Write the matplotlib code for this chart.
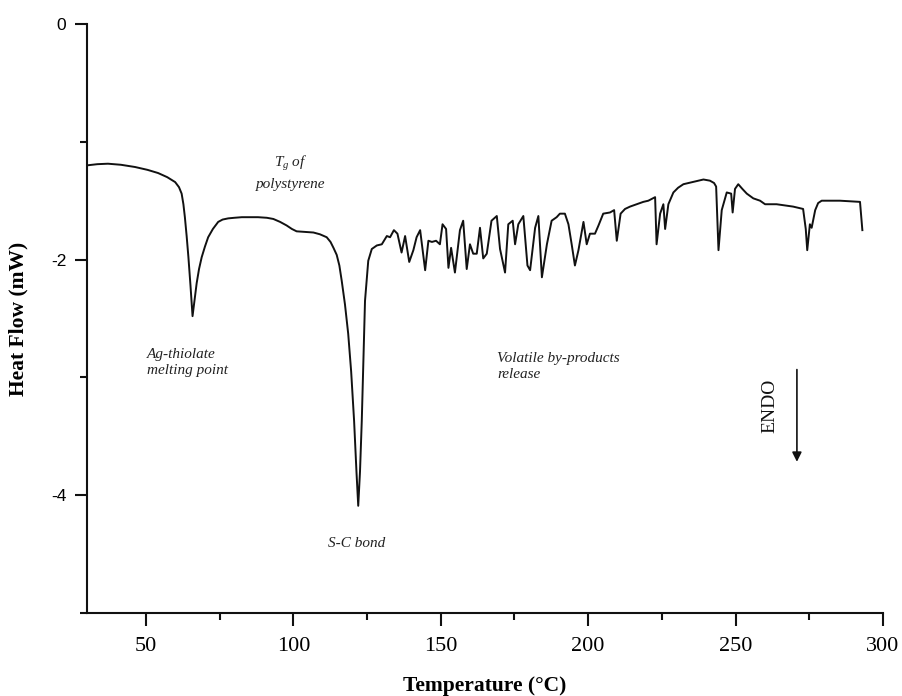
import matplotlib
matplotlib.use("Agg")
import matplotlib.pyplot as plt
from matplotlib.ticker import MultipleLocator

plt.rcParams["mathtext.fontset"] = "custom"
plt.rcParams["mathtext.rm"] = "Liberation Serif"
plt.rcParams["mathtext.it"] = "Liberation Serif:italic"

# Temperature (°C) and heat flow (mW)
temperature = [30.0, 33.5, 37.1, 41.5, 46.3, 50.5, 54.1, 57.2, 59.9, 61.2, 62.1, 62.7, 63.2, 63.8,
               64.4, 65.1, 65.8, 66.4, 67.2, 68.0, 68.9, 70.0, 71.1, 72.7, 74.5, 76.0, 77.9,
               80.0, 82.5, 85.0, 88.0, 91.0, 93.2, 95.5, 97.7, 99.5, 101.1, 104.0, 106.8, 109.0,
               111.3, 112.6, 113.6, 114.7, 115.6, 116.4, 117.5, 118.6, 119.6, 120.6, 121.4, 122.0,
               122.6, 123.2, 124.3, 125.4, 126.6, 128.3, 130.0, 131.7, 132.8, 134.1, 135.3, 136.7,
               137.9, 139.3, 140.7, 141.8, 143.0, 144.7, 145.8, 147.0, 148.4, 149.7, 150.6, 151.8,
               152.6, 153.5, 154.8, 156.5, 157.6, 158.8, 159.9, 161.0, 162.2, 163.3, 164.4, 165.6,
               167.2, 169.0, 170.1, 171.8, 172.9, 174.4, 175.2, 176.3, 178.0, 179.4, 180.3, 182.0,
               183.1, 184.3, 186.0, 187.6, 189.3, 190.4, 192.1, 193.3, 194.4, 195.5, 196.7, 198.4,
               199.5, 200.6, 202.3, 203.5, 205.1, 207.4, 208.8, 209.7, 211.0, 212.5, 214.2, 216.4,
               218.7, 220.4, 222.7, 223.2, 224.4, 225.5, 226.1, 227.2, 228.9, 230.5, 232.3, 235.7,
               239.1, 241.3, 242.7, 243.4, 244.2, 245.3, 247.0, 248.5, 249.0, 249.8, 250.9, 252.3,
               253.8, 256.0, 258.3, 260.0, 263.9, 269.5, 272.9, 273.8, 274.3, 275.2, 275.8, 277.0,
               278.0, 279.2, 285.4, 292.2, 293.0]
heat_flow = [-1.20, -1.19, -1.186, -1.195, -1.214, -1.238, -1.265, -1.30, -1.342, -1.385, -1.44,
             -1.53, -1.64, -1.80, -1.98, -2.22, -2.48, -2.36, -2.20, -2.08, -1.98, -1.89, -1.81,
             -1.74, -1.68, -1.66, -1.65, -1.645, -1.64, -1.64, -1.64, -1.645, -1.655, -1.68,
             -1.71, -1.74, -1.76, -1.765, -1.77, -1.785, -1.81, -1.85, -1.90, -1.96, -2.05, -2.18,
             -2.38, -2.63, -2.95, -3.37, -3.80, -4.09, -3.80, -3.37, -2.35, -2.01, -1.91, -1.88,
             -1.87, -1.80, -1.81, -1.75, -1.78, -1.94, -1.80, -2.02, -1.92, -1.81, -1.75, -2.09,
             -1.84, -1.85, -1.84, -1.87, -1.70, -1.74, -2.07, -1.90, -2.11, -1.75, -1.67, -2.08,
             -1.87, -1.95, -1.95, -1.73, -1.99, -1.95, -1.67, -1.63, -1.91, -2.11, -1.70, -1.67,
             -1.87, -1.70, -1.63, -2.05, -2.09, -1.73, -1.63, -2.15, -1.87, -1.67, -1.64, -1.61,
             -1.61, -1.70, -1.87, -2.05, -1.92, -1.68, -1.87, -1.78, -1.78, -1.71, -1.61, -1.60,
             -1.58, -1.84, -1.61, -1.57, -1.55, -1.53, -1.51, -1.50, -1.47, -1.87, -1.61, -1.53,
             -1.74, -1.53, -1.43, -1.39, -1.36, -1.34, -1.32, -1.33, -1.35, -1.38, -1.92, -1.58,
             -1.43, -1.44, -1.60, -1.40, -1.36, -1.40, -1.44, -1.48, -1.50, -1.53, -1.53, -1.55,
             -1.57, -1.74, -1.92, -1.70, -1.73, -1.58, -1.52, -1.50, -1.50, -1.51, -1.75]

x_ticks = [50, 100, 150, 200, 250, 300]
y_ticks = [-4, -2, 0]

serif = ["Liberation Serif", "DejaVu Serif"]
sans = ["Liberation Sans", "DejaVu Sans"]

fig = plt.figure(figsize=(9.02, 6.96), dpi=100)
ax = fig.add_axes([87 / 902, 83 / 696, 796 / 902, 589 / 696])
ax.plot(temperature, heat_flow, color="#111111", lw=1.4)

ax.set_xlim(30, 300)
ax.set_ylim(-5, 0)
ax.xaxis.set_major_locator(MultipleLocator(50))
ax.xaxis.set_minor_locator(MultipleLocator(25))
ax.yaxis.set_major_locator(MultipleLocator(2))
ax.yaxis.set_minor_locator(MultipleLocator(1))
ax.set_xticks(x_ticks)
ax.set_yticks(y_ticks)
ax.set_xticklabels([str(v) for v in x_ticks], fontfamily=serif, fontsize=16)
ax.set_yticklabels([str(v) for v in y_ticks], fontfamily=sans, fontsize=12.5)

for s in ["top", "right"]:
    ax.spines[s].set_visible(False)
for s in ["left", "bottom"]:
    ax.spines[s].set_linewidth(1.5)
    ax.spines[s].set_color("#111111")
ax.tick_params(axis="x", which="major", direction="out", length=9, width=1.5, color="#111111", pad=8)
ax.tick_params(axis="y", which="major", direction="out", length=9, width=1.5, color="#111111", pad=6)
ax.tick_params(which="minor", direction="out", length=5, width=1.5, color="#111111")

ax.set_xlabel("Temperature (°C)", fontfamily=serif, fontweight="bold", fontsize=15.5, labelpad=15)
ax.set_ylabel("Heat Flow (mW)", fontfamily=serif, fontweight="bold", fontsize=15.5, labelpad=16)

tk = dict(fontfamily=serif, style="italic", fontsize=11, color="#222222")
ax.text(99.0, -1.26, "$T_g$ of\npolystyrene", ha="center", va="center", linespacing=1.5, **tk)
ax.text(50.4, -2.87, "Ag-thiolate\nmelting point", ha="left", va="center", linespacing=1.3, **tk)
ax.text(121.6, -4.41, "S-C bond", ha="center", va="center", **tk)
ax.text(169.1, -2.91, "Volatile by-products\nrelease", ha="left", va="center", linespacing=1.3, **tk)

ax.text(261.7, -3.24, "ENDO", rotation=90, ha="center", va="center",
        fontfamily=serif, fontsize=14, color="#111111")
ax.annotate("", xy=(270.8, -3.74), xytext=(270.8, -2.91),
            arrowprops=dict(arrowstyle="-|>", color="#111111", lw=1.2, mutation_scale=14))

fig.savefig("out.png", dpi=100)
